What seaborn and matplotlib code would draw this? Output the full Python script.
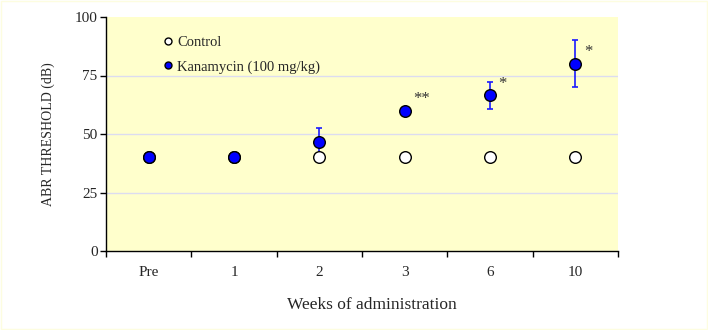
import matplotlib
matplotlib.use("Agg")
import matplotlib.pyplot as plt
import seaborn as sns
import numpy as np
from matplotlib.lines import Line2D
from matplotlib.patches import Rectangle

weeks = ["Pre", "1", "2", "3", "6", "10"]
control = [40, 40, 40, 40, 40, 40]
kanamycin = [40, 40, 46.5, 60, 66.5, 80]
kana_err = [0, 0, 6, 0, 5.7, 10]
stars = ["", "", "", "**", "*", "*"]

sns.set_theme(style="white")
plt.rcParams["font.family"] = ["Liberation Serif", "DejaVu Serif"]

fig = plt.figure(figsize=(7.08, 3.30), dpi=100)
fig.patches.append(Rectangle((0.001, 0.002), 0.998, 0.996, transform=fig.transFigure,
                             fill=False, edgecolor="#fdfde0", lw=1, zorder=-1))
ax = fig.add_axes([106 / 708, 1 - 251 / 330, 512 / 708, 234 / 330])
ax.set_facecolor("#ffffcc")

xpos = np.arange(len(weeks))
for y in [25, 50, 75]:
    ax.axhline(y, color="#dcdcf0", lw=1, zorder=0)

err = np.array(kana_err, dtype=float)
mask = err > 0
ax.errorbar(xpos[mask], np.array(kanamycin)[mask], yerr=err[mask], fmt="none",
            ecolor="#1a1aff", elinewidth=1.2, capsize=2.2, capthick=1.2, zorder=2)

sns.scatterplot(x=xpos, y=control, ax=ax, color="white", edgecolor="black",
                linewidth=1, s=70, zorder=3, legend=False)
sns.scatterplot(x=xpos, y=kanamycin, ax=ax, color="#0000ff", edgecolor="black",
                linewidth=1, s=70, zorder=4, legend=False)

for x, y, s in zip(xpos, kanamycin, stars):
    if s:
        ax.text(x + 0.1, y + 5, s, fontsize=12, ha="left",
                va="center", color="#333333")

h = [Line2D([], [], ls="none", marker="o", ms=5, mfc="white", mec="black", mew=1),
     Line2D([], [], ls="none", marker="o", ms=5, mfc="#0000ff", mec="black", mew=1)]
ax.legend(h, ["Control", "Kanamycin (100 mg/kg)"], loc="upper left",
          bbox_to_anchor=(0.076, 0.975), frameon=False, fontsize=10.5,
          handletextpad=-0.1, handlelength=1.4, labelspacing=0.75)

ax.set_xlim(-0.5, len(weeks) - 0.5)
ax.set_ylim(0, 100)
ax.set_xticks(xpos)
ax.set_xticklabels(weeks, fontsize=11)
ax.set_xticks(np.arange(-0.5, len(weeks), 1.0), minor=True)
ax.tick_params(axis="x", which="major", length=0, pad=11)
ax.tick_params(axis="x", which="minor", length=4, width=1, color="black", bottom=True)
ax.set_yticks([0, 25, 50, 75, 100])
ax.tick_params(axis="y", length=4, width=1, color="black", left=True, labelsize=11, pad=2)

for side in ["top", "right"]:
    ax.spines[side].set_visible(False)
for side in ["left", "bottom"]:
    ax.spines[side].set_color("black")
    ax.spines[side].set_linewidth(1)

ax.set_ylabel("ABR THRESHOLD (dB)", fontsize=10)
ax.yaxis.set_label_coords((55 - 106) / 512, 0.5)
ax.set_xlabel("Weeks of administration", fontsize=12.5)
ax.xaxis.set_label_coords((372 - 106) / 512, (251 - 297) / 234)

fig.savefig("out.png", dpi=100)
